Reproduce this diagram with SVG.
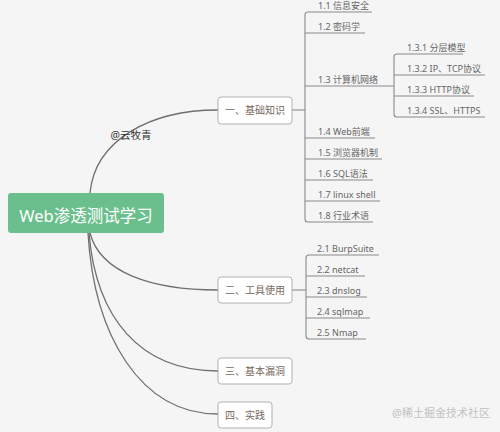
<svg xmlns="http://www.w3.org/2000/svg" width="500" height="432" viewBox="0 0 500 432">
<style>
.curve{fill:none;stroke:#6f6f6f;stroke-width:1.3}
.br{fill:none;stroke:#8a8a8a;stroke-width:1.1}
.box{fill:#ffffff;stroke:#a9a9a9;stroke-width:0.9}
.nt{font-family:"Noto Sans","Noto Sans CJK SC",sans-serif;font-size:10px;fill:#75685c;text-anchor:middle}
.it{font-family:"Noto Sans","Noto Sans CJK SC",sans-serif;font-size:9px;fill:#666666}
</style>
<rect width="500" height="432" fill="#f5f5f5"/>
<g id="connectors">
<path class="curve" d="M90,193 C95,140 150,110 218,110"/>
<path class="curve" d="M90,233 C100,272 150,290 218,290"/>
<path class="curve" d="M89,233 C96,318 140,371 218,371"/>
<path class="curve" d="M88,233 C94,335 140,414 218,414"/>
<path class="br" d="M292,110 H305"/>
<path class="br" d="M372,12 H308 Q305,12 305,15 V219 Q305,222 308,222 H373"/>
<path class="br" d="M305,33 H365 M305,86 H394 M305,138 H375 M305,159 H382 M305,180 H373 M305,201 H380"/>
<path class="br" d="M463,54 H397 Q394,54 394,57 V114 Q394,117 397,117 H485"/>
<path class="br" d="M394,75 H485 M394,96 H474"/>
<path class="br" d="M292,290 H306"/>
<path class="br" d="M379,255 H309 Q306,255 306,258 V336 Q306,339 309,339 H366"/>
<path class="br" d="M306,276 H365 M306,297 H367 M306,318 H370"/>
</g>
<g id="root">
<rect x="8" y="193" width="156" height="40" rx="3" fill="#6abf8c"/>
<text x="86" y="222" font-family="Noto Sans, Noto Sans CJK SC, sans-serif" font-size="16.5" fill="#ffffff" text-anchor="middle">Web渗透测试学习</text>
</g>
<g id="author"><text x="131" y="139" font-family="Noto Sans, Noto Sans CJK SC, sans-serif" font-size="10.5" fill="#333333" text-anchor="middle">@云牧青</text></g>
<g id="n1"><rect class="box" x="218" y="97" width="74" height="27" rx="3"/><text class="nt" x="255" y="114">一、基础知识</text></g>
<g id="n2"><rect class="box" x="218" y="277" width="74" height="26" rx="3"/><text class="nt" x="255" y="294">二、工具使用</text></g>
<g id="n3"><rect class="box" x="218" y="358" width="74" height="26" rx="3"/><text class="nt" x="255" y="375">三、基本漏洞</text></g>
<g id="n4"><rect class="box" x="218" y="402" width="54" height="26" rx="3"/><text class="nt" x="245" y="419">四、实践</text></g>
<g id="n1_1"><text class="it" x="318" y="9">1.1 信息安全</text></g>
<g id="n1_2"><text class="it" x="318" y="30">1.2 密码学</text></g>
<g id="n1_3"><text class="it" x="318" y="83">1.3 计算机网络</text></g>
<g id="n1_3_1"><text class="it" x="407" y="51">1.3.1 分层模型</text></g>
<g id="n1_3_2"><text class="it" x="407" y="72">1.3.2 IP、TCP协议</text></g>
<g id="n1_3_3"><text class="it" x="407" y="93">1.3.3 HTTP协议</text></g>
<g id="n1_3_4"><text class="it" x="407" y="114">1.3.4 SSL、HTTPS</text></g>
<g id="n1_4"><text class="it" x="318" y="135">1.4 Web前端</text></g>
<g id="n1_5"><text class="it" x="318" y="156">1.5 浏览器机制</text></g>
<g id="n1_6"><text class="it" x="318" y="177">1.6 SQL语法</text></g>
<g id="n1_7"><text class="it" x="318" y="198">1.7 linux shell</text></g>
<g id="n1_8"><text class="it" x="318" y="219">1.8 行业术语</text></g>
<g id="n2_1"><text class="it" x="317" y="252">2.1 BurpSuite</text></g>
<g id="n2_2"><text class="it" x="317" y="273">2.2 netcat</text></g>
<g id="n2_3"><text class="it" x="317" y="294">2.3 dnslog</text></g>
<g id="n2_4"><text class="it" x="317" y="315">2.4 sqlmap</text></g>
<g id="n2_5"><text class="it" x="317" y="336">2.5 Nmap</text></g>
<g id="watermark"><text x="441" y="417" font-family="Noto Sans, Noto Sans CJK SC, sans-serif" font-size="11" fill="#c2c2c2" text-anchor="middle">@稀土掘金技术社区</text></g>
</svg>
